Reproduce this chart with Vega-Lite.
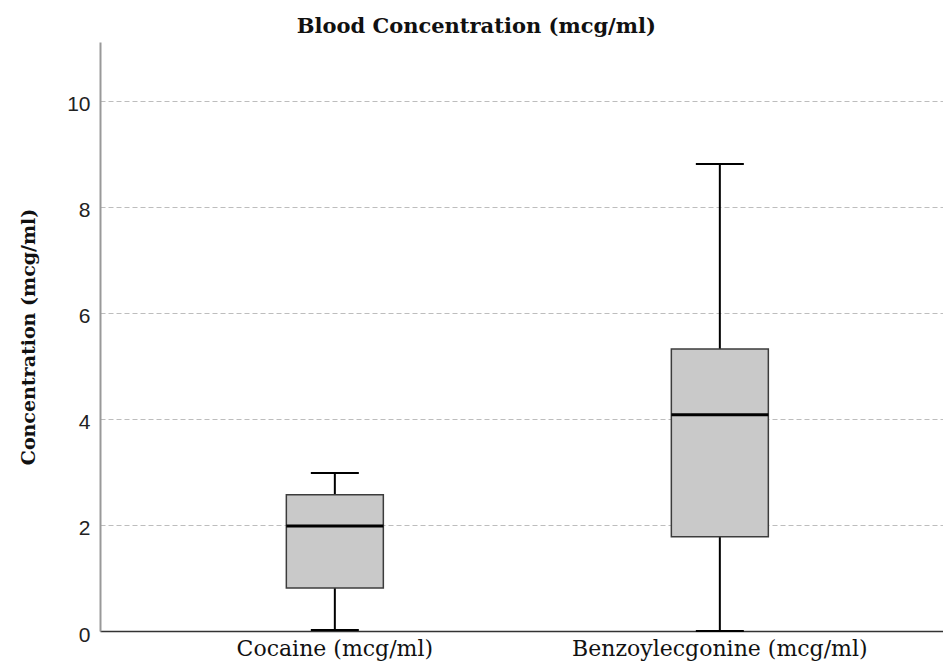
{
  "$schema": "https://vega.github.io/schema/vega-lite/v6.json",
  "autosize": "none",
  "padding": {"left": 100, "top": 42, "right": 0, "bottom": 36},
  "width": 843,
  "height": 589,
  "background": "white",
  "title": {
    "text": "Blood Concentration (mcg/ml)",
    "font": "DejaVu Serif",
    "fontSize": 21,
    "fontWeight": "bold",
    "color": "#111111",
    "anchor": "middle",
    "frame": "bounds",
    "dx": -5,
    "offset": 5
  },
  "data": {
    "values": [
      {"drug": "Cocaine (mcg/ml)", "min": 0.02, "q1": 0.81, "median": 1.98, "q3": 2.57, "max": 2.98},
      {"drug": "Benzoylecgonine (mcg/ml)", "min": 0.0, "q1": 1.78, "median": 4.08, "q3": 5.32, "max": 8.81}
    ]
  },
  "encoding": {
    "x": {
      "field": "drug",
      "type": "nominal",
      "sort": null,
      "scale": {"paddingInner": 0, "paddingOuter": 0.0948, "align": 0.58},
      "axis": {
        "title": null,
        "labelAngle": 0,
        "labelLimit": 0,
        "labelFont": "DejaVu Serif",
        "labelFontSize": 22,
        "labelColor": "#111111",
        "labelPadding": 7,
        "ticks": false,
        "domainColor": "#333333",
        "domainWidth": 1.5,
        "grid": false
      }
    }
  },
  "layer": [
    {
      "mark": {"type": "rule", "color": "black", "strokeWidth": 2},
      "encoding": {
        "y": {
          "field": "min",
          "type": "quantitative",
          "scale": {"domain": [0, 11.11], "nice": false, "zero": true},
          "axis": {
            "title": "Concentration (mcg/ml)",
            "titleFont": "DejaVu Serif",
            "titleFontSize": 19,
            "titleFontWeight": "bold",
            "titleColor": "#111111",
            "titlePadding": 28,
            "values": [0, 2, 4, 6, 8, 10],
            "labelFont": "Liberation Sans",
            "labelFontSize": 21,
            "labelColor": "#222222",
            "labelPadding": 10,
            "labelOffset": 4,
            "ticks": false,
            "domainColor": "#999999",
            "domainWidth": 2,
            "grid": true,
            "gridColor": "#bdbdbd",
            "gridDash": [5, 3],
            "gridWidth": 1
          }
        },
        "y2": {"field": "max"}
      }
    },
    {
      "mark": {"type": "bar", "size": 97, "fill": "#c9c9c9", "stroke": "#3c3c3c", "strokeWidth": 1.5},
      "encoding": {
        "y": {"field": "q1", "type": "quantitative"},
        "y2": {"field": "q3"}
      }
    },
    {
      "mark": {"type": "tick", "size": 97, "thickness": 3, "color": "black", "opacity": 1},
      "encoding": {
        "y": {"field": "median", "type": "quantitative"}
      }
    },
    {
      "mark": {"type": "tick", "size": 48, "thickness": 2, "color": "black", "opacity": 1},
      "encoding": {
        "y": {"field": "min", "type": "quantitative"}
      }
    },
    {
      "mark": {"type": "tick", "size": 48, "thickness": 2, "color": "black", "opacity": 1},
      "encoding": {
        "y": {"field": "max", "type": "quantitative"}
      }
    }
  ],
  "config": {
    "view": {"stroke": null}
  }
}
